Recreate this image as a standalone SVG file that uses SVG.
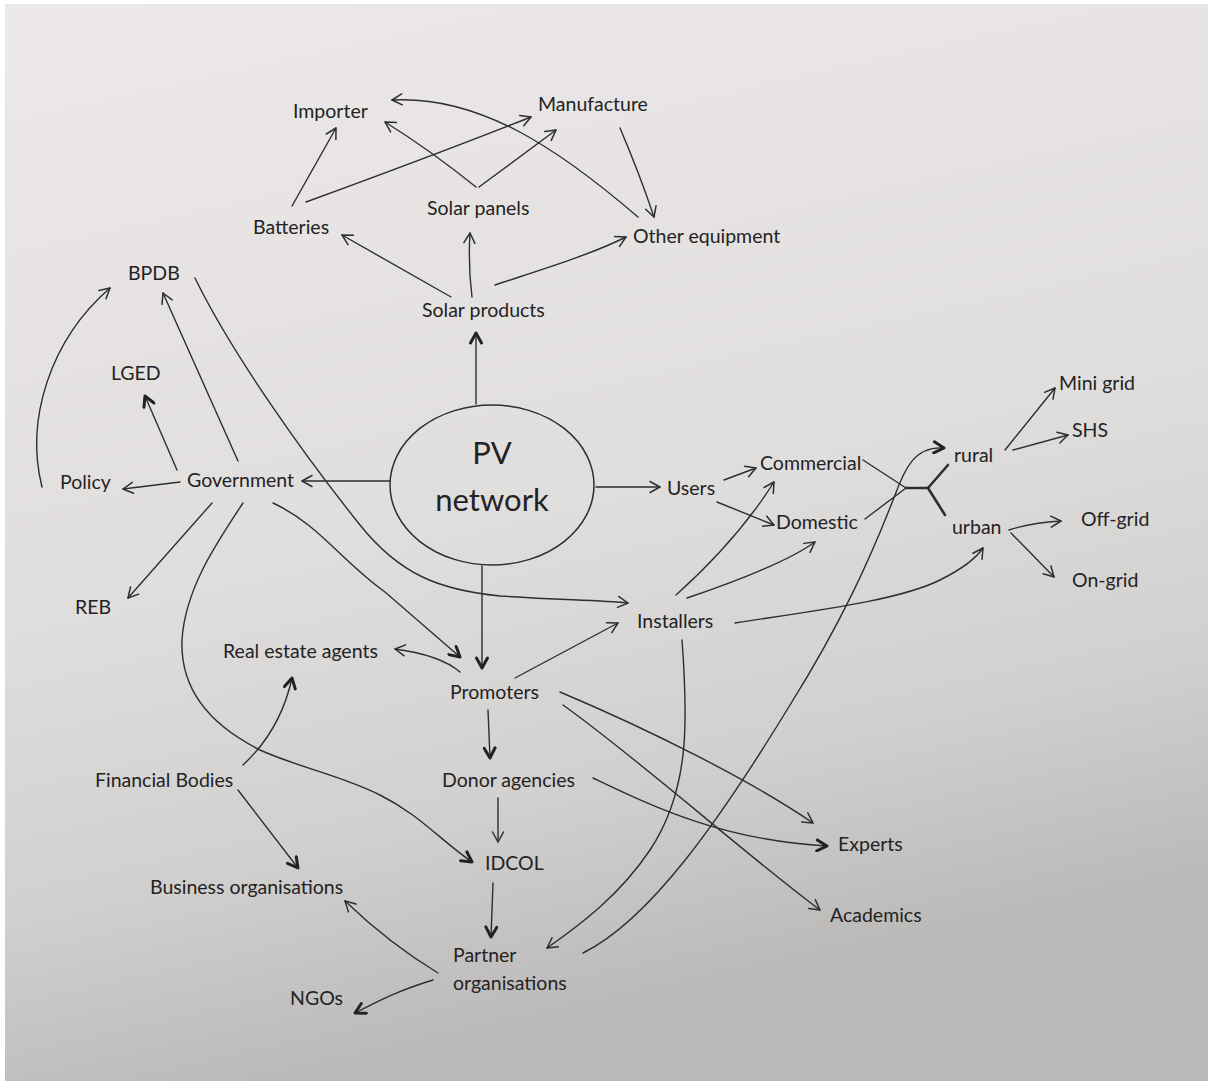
<svg xmlns="http://www.w3.org/2000/svg" width="1208" height="1081" viewBox="0 0 1208 1081">
<defs>
<linearGradient id="paper" x1="0" y1="0" x2="0.25" y2="1">
<stop offset="0" stop-color="#ece9e8"/>
<stop offset="0.55" stop-color="#e0dddd"/>
<stop offset="0.8" stop-color="#d2cfcf"/>
<stop offset="1" stop-color="#bbb8b8"/>
</linearGradient>
<marker id="a" viewBox="0 0 14 14" refX="12" refY="7" markerWidth="14" markerHeight="14" markerUnits="userSpaceOnUse" orient="auto">
<path d="M2,1.5 L12,7 L2,12.5" fill="none" stroke="#2e2e2e" stroke-width="1.5" stroke-linecap="round" stroke-linejoin="round"/>
</marker>
<marker id="b" viewBox="0 0 14 14" refX="12" refY="7" markerWidth="14" markerHeight="14" markerUnits="userSpaceOnUse" orient="auto">
<path d="M2,1.5 L12,7 L2,12.5" fill="none" stroke="#222" stroke-width="3" stroke-linecap="round" stroke-linejoin="round"/>
</marker>
</defs>
<style>
text{font-family:Lato,"Liberation Sans",sans-serif;font-size:19.5px;fill:#232323}
.big{font-size:31px}
.c path{fill:none;stroke:#2e2e2e;stroke-width:1.4;stroke-linecap:round}
.c .e{marker-end:url(#a)}
.c .bo{marker-end:url(#b)}
.c .th{stroke-width:2.6}
</style>
<rect width="1208" height="1081" fill="url(#paper)"/>
<rect width="5" height="1081" fill="#ffffff"/>
<rect width="1208" height="4" fill="#ffffff"/>

<g id="connectors" class="c">
<path class="e" d="M292,206 L336,128"/>
<path class="e" d="M306,202 C380,175 460,145 531,117"/>
<path class="e" d="M476,187 Q430,150 385,122"/>
<path class="e" d="M479,187 L556,130"/>
<path class="e" d="M638,217 C560,150 480,95 392,100"/>
<path class="e" d="M620,128 Q640,175 654,217"/>
<path class="e" d="M451,297 L342,235"/>
<path class="e" d="M472,297 Q468,265 470,233"/>
<path class="e" d="M495,285 C540,270 590,255 626,237"/>
<path class="bo" d="M476,404 L476,333"/>
<path class="e" d="M42,487 C25,420 50,340 110,288"/>
<path class="e" d="M238,461 L163,293"/>
<path class="bo" d="M177,470 L145,396"/>
<path class="e" d="M180,482 L123,489"/>
<path class="e" d="M390,481 L302,481"/>
<path class="e" d="M212,503 L128,598"/>
<path class="e" d="M195,278 C230,350 300,450 360,525 C400,575 440,590 500,596 C560,600 600,600 628,603"/>
<path class="bo" d="M273,503 C320,525 340,560 385,592 L460,657"/>
<path class="bo" d="M243,503 C215,545 185,590 182,640 C180,690 210,725 260,750 C300,768 340,775 380,795 C420,815 440,840 472,862"/>
<path class="bo" d="M482,566 L482,668"/>
<path class="e" d="M596,487 L660,487"/>
<path class="e" d="M460,672 Q440,655 395,649"/>
<path class="e" d="M515,678 L618,623"/>
<path class="bo" d="M488,710 L490,758"/>
<path class="e" d="M498,798 L498,842"/>
<path class="bo" d="M493,883 L491,937"/>
<path class="bo" d="M243,765 C270,740 285,710 292,678"/>
<path class="bo" d="M238,790 L298,868"/>
<path class="e" d="M438,973 C400,950 370,925 345,901"/>
<path class="bo" d="M433,980 C400,990 380,1000 355,1013"/>
<path class="e" d="M682,640 C688,720 690,790 650,850 C620,895 580,925 547,948"/>
<path class="bo" d="M583,953 C650,920 720,820 790,705 C840,625 870,560 895,495 C905,468 915,446 944,448"/>
<path class="e" d="M724,480 L756,468"/>
<path class="e" d="M717,502 L774,525"/>
<path d="M863,460 L906,488"/>
<path d="M865,519 L906,488"/>
<path class="th" d="M906,488 L928,488"/>
<path class="th" d="M928,488 L948,465"/>
<path class="th" d="M928,488 L945,515"/>
<path class="e" d="M1005,450 L1055,388"/>
<path class="e" d="M1013,450 L1068,435"/>
<path class="e" d="M1009,530 Q1030,523 1061,521"/>
<path class="e" d="M1011,533 L1054,577"/>
<path class="e" d="M676,595 C715,560 750,520 774,482"/>
<path class="e" d="M687,598 C740,580 790,560 815,542"/>
<path class="e" d="M735,623 C820,610 900,600 940,580 C960,570 975,560 983,548"/>
<path class="e" d="M560,692 C650,730 750,780 813,823"/>
<path class="e" d="M563,705 C640,760 740,850 820,910"/>
<path class="bo" d="M593,778 C650,805 720,840 827,846"/>
</g>

<g id="pv-network">
<ellipse cx="492" cy="485" rx="102" ry="80" fill="none" stroke="#2e2e2e" stroke-width="1.5"/>
<text class="big" x="492" y="464" text-anchor="middle">PV</text>
<text class="big" x="492" y="511" text-anchor="middle">network</text>
</g>
<g id="importer"><text x="293" y="118">Importer</text></g>
<g id="manufacture"><text x="538" y="111">Manufacture</text></g>
<g id="batteries"><text x="253" y="234">Batteries</text></g>
<g id="solar-panels"><text x="427" y="215">Solar panels</text></g>
<g id="other-equipment"><text x="633" y="243">Other equipment</text></g>
<g id="solar-products"><text x="422" y="317">Solar products</text></g>
<g id="bpdb"><text x="128" y="280">BPDB</text></g>
<g id="lged"><text x="111" y="380">LGED</text></g>
<g id="policy"><text x="60" y="489">Policy</text></g>
<g id="government"><text x="187" y="487">Government</text></g>
<g id="reb"><text x="75" y="614">REB</text></g>
<g id="users"><text x="667" y="495">Users</text></g>
<g id="commercial"><text x="760" y="470">Commercial</text></g>
<g id="domestic"><text x="776" y="529">Domestic</text></g>
<g id="rural"><text x="954" y="462">rural</text></g>
<g id="urban"><text x="952" y="534">urban</text></g>
<g id="mini-grid"><text x="1059" y="390">Mini grid</text></g>
<g id="shs"><text x="1072" y="437">SHS</text></g>
<g id="off-grid"><text x="1081" y="526">Off-grid</text></g>
<g id="on-grid"><text x="1072" y="587">On-grid</text></g>
<g id="installers"><text x="637" y="628">Installers</text></g>
<g id="real-estate-agents"><text x="223" y="658">Real estate agents</text></g>
<g id="promoters"><text x="450" y="699">Promoters</text></g>
<g id="donor-agencies"><text x="442" y="787">Donor agencies</text></g>
<g id="financial-bodies"><text x="95" y="787">Financial Bodies</text></g>
<g id="idcol"><text x="485" y="870">IDCOL</text></g>
<g id="business-organisations"><text x="150" y="894">Business organisations</text></g>
<g id="partner-organisations"><text x="453" y="962">Partner</text><text x="453" y="990">organisations</text></g>
<g id="ngos"><text x="290" y="1005">NGOs</text></g>
<g id="experts"><text x="838" y="851">Experts</text></g>
<g id="academics"><text x="830" y="922">Academics</text></g>
</svg>
